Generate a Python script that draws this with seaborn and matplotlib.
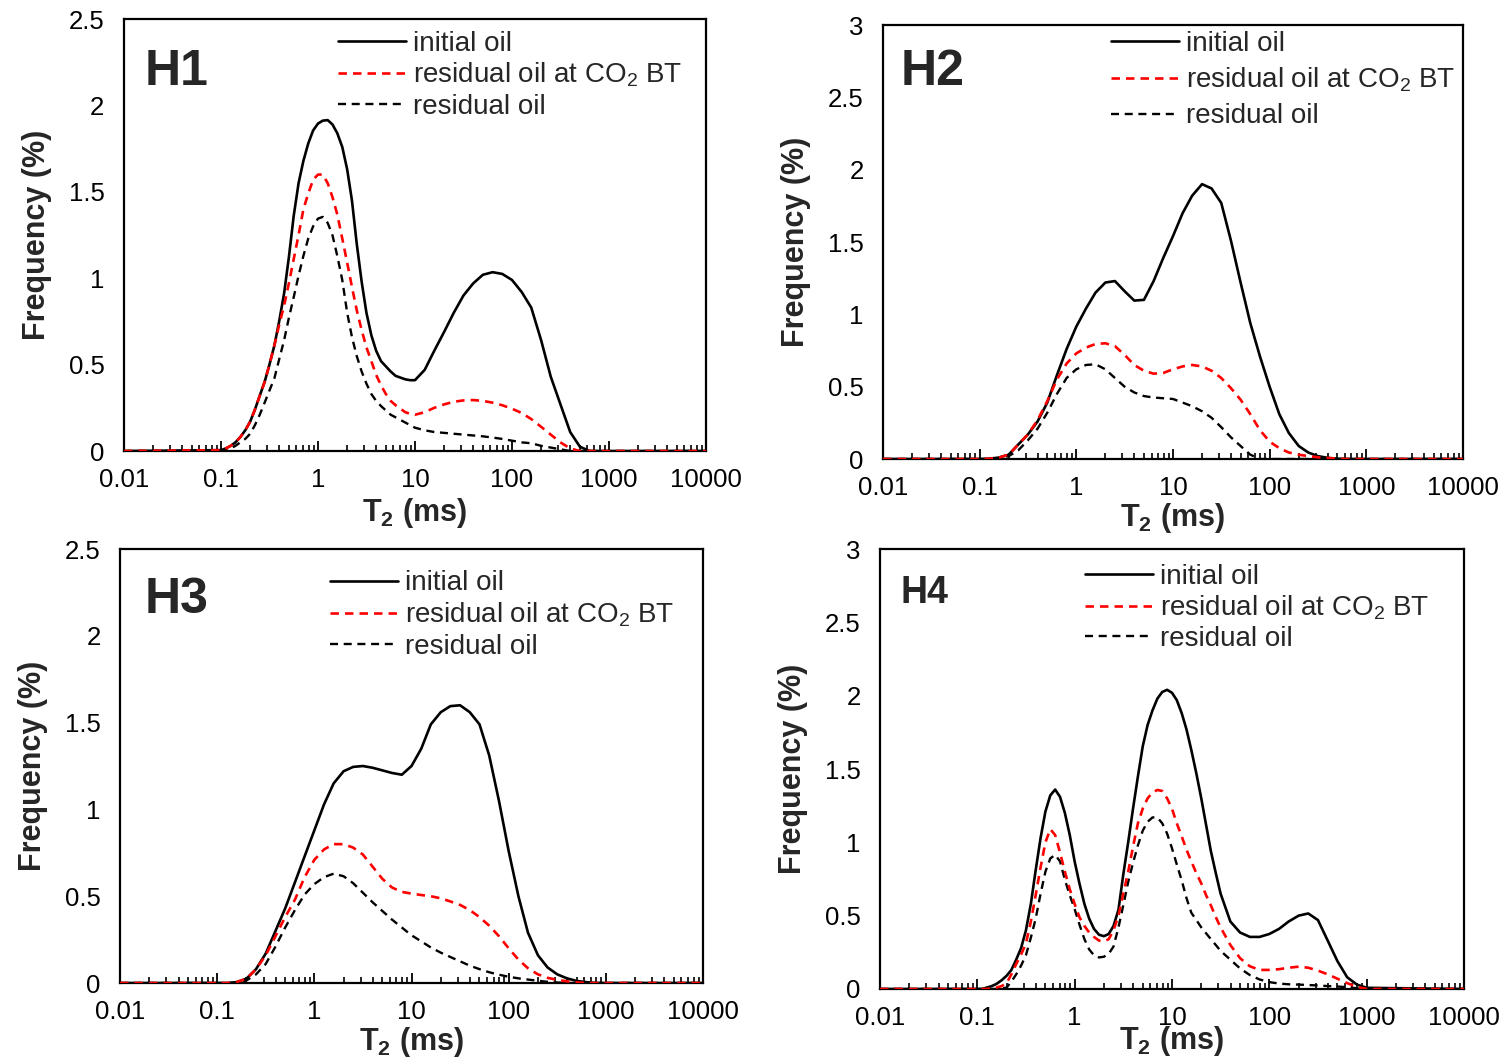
import matplotlib
matplotlib.use("Agg")
import matplotlib.pyplot as plt
import numpy as np
import pandas as pd
import seaborn as sns
from matplotlib.ticker import FixedLocator, LogLocator, NullFormatter

# ---------------- data ----------------
# T2 sample positions (ms)
T2_BASE = [0.01, 0.1, 0.126, 0.158, 0.2, 0.251, 0.316, 0.398, 0.501, 0.631, 0.794,
           1.0, 1.26, 1.58, 2.0, 2.51, 3.16, 3.98, 5.01, 6.31, 7.94,
           10.0, 12.6, 15.8, 20.0, 25.1, 31.6, 39.8, 50.1, 63.1, 79.4,
           100, 126, 158, 200, 251, 316, 398, 501, 631, 794, 1000, 10000]

H1_T2 = [0.01,
         0.1, 0.112, 0.126, 0.141, 0.158, 0.178, 0.2, 0.224, 0.251, 0.282,
         0.316, 0.355, 0.398, 0.447, 0.501, 0.562, 0.631, 0.708, 0.794, 0.891,
         1.0, 1.12, 1.26, 1.41, 1.58, 1.78, 2.0, 2.24, 2.51, 2.82,
         3.16, 3.55, 3.98, 4.47, 5.01, 5.62, 6.31, 7.08, 7.94, 8.91, 10.0,
         12.6, 15.8, 20.0, 25.1, 31.6, 39.8, 50.1, 63.1, 79.4, 100,
         126, 158, 200, 251, 316, 398, 501, 631, 794, 1000,
         10000]
H1_INITIAL = [0,
              0.005, 0.015, 0.03, 0.05, 0.08, 0.12, 0.17, 0.24, 0.32, 0.40,
              0.50, 0.61, 0.75, 0.91, 1.12, 1.36, 1.55, 1.68, 1.78, 1.855,
              1.895, 1.912, 1.915, 1.89, 1.84, 1.76, 1.63, 1.45, 1.20, 0.98,
              0.80, 0.67, 0.58, 0.52, 0.49, 0.46, 0.435, 0.425, 0.415, 0.41, 0.41,
              0.47, 0.58, 0.69, 0.80, 0.90, 0.97, 1.02, 1.035, 1.025, 0.99,
              0.92, 0.83, 0.64, 0.43, 0.27, 0.11, 0.025, 0, 0, 0,
              0]
H1_BT = [0,
         0.005, 0.015, 0.03, 0.05, 0.08, 0.12, 0.17, 0.24, 0.32, 0.40,
         0.50, 0.61, 0.73, 0.84, 0.97, 1.11, 1.25, 1.40, 1.49, 1.57,
         1.60, 1.60, 1.55, 1.47, 1.37, 1.23, 1.09, 0.95, 0.815, 0.70,
         0.60, 0.52, 0.44, 0.38, 0.33, 0.29, 0.265, 0.245, 0.225, 0.215, 0.21,
         0.225, 0.25, 0.27, 0.285, 0.293, 0.295, 0.29, 0.28, 0.265, 0.245,
         0.22, 0.185, 0.14, 0.095, 0.05, 0.015, 0, 0, 0, 0,
         0]
H1_RESIDUAL = [0,
               0, 0.005, 0.015, 0.03, 0.05, 0.07, 0.10, 0.15, 0.21, 0.28,
               0.35, 0.42, 0.53, 0.64, 0.77, 0.89, 1.015, 1.13, 1.23, 1.30,
               1.345, 1.355, 1.32, 1.25, 1.13, 0.99, 0.80, 0.66, 0.55, 0.46,
               0.39, 0.33, 0.29, 0.26, 0.235, 0.21, 0.195, 0.18, 0.165, 0.15, 0.135,
               0.12, 0.11, 0.105, 0.10, 0.095, 0.09, 0.085, 0.078, 0.07, 0.06,
               0.05, 0.045, 0.03, 0.02, 0.01, 0, 0, 0, 0, 0,
               0]

H2_INITIAL = [0, 0, 0.002, 0.01, 0.03, 0.10, 0.17, 0.26, 0.39, 0.58, 0.76,
              0.915, 1.04, 1.15, 1.22, 1.23, 1.16, 1.095, 1.10, 1.23, 1.39,
              1.54, 1.70, 1.82, 1.90, 1.87, 1.77, 1.51, 1.22, 0.94, 0.71,
              0.50, 0.31, 0.18, 0.09, 0.045, 0.02, 0.008, 0.002, 0, 0, 0, 0]
H2_BT = [0, 0, 0.002, 0.01, 0.03, 0.10, 0.17, 0.27, 0.40, 0.55, 0.66,
         0.73, 0.77, 0.795, 0.80, 0.78, 0.72, 0.65, 0.61, 0.59, 0.595,
         0.62, 0.64, 0.65, 0.64, 0.61, 0.56, 0.49, 0.41, 0.31, 0.20,
         0.12, 0.075, 0.045, 0.03, 0.02, 0.012, 0.007, 0.003, 0, 0, 0, 0]
H2_RESIDUAL = [0, 0, 0, 0.005, 0.02, 0.06, 0.13, 0.21, 0.32, 0.45, 0.56,
               0.62, 0.65, 0.655, 0.62, 0.56, 0.50, 0.46, 0.435, 0.425, 0.42,
               0.415, 0.39, 0.365, 0.33, 0.285, 0.22, 0.15, 0.09, 0.03, 0,
               0, 0, 0, 0, 0, 0, 0, 0, 0, 0, 0, 0]

H3_INITIAL = [0, 0, 0, 0.005, 0.025, 0.08, 0.17, 0.30, 0.43, 0.58, 0.73,
              0.88, 1.03, 1.15, 1.22, 1.245, 1.25, 1.24, 1.225, 1.21, 1.20,
              1.25, 1.35, 1.49, 1.56, 1.595, 1.60, 1.56, 1.49, 1.31, 1.05,
              0.76, 0.50, 0.29, 0.16, 0.09, 0.05, 0.027, 0.012, 0.005, 0, 0, 0]
H3_BT = [0, 0, 0, 0.005, 0.025, 0.08, 0.16, 0.27, 0.38, 0.48, 0.61,
         0.71, 0.77, 0.80, 0.80, 0.78, 0.74, 0.67, 0.60, 0.55, 0.525,
         0.515, 0.507, 0.50, 0.488, 0.47, 0.45, 0.42, 0.38, 0.33, 0.27,
         0.20, 0.135, 0.085, 0.05, 0.03, 0.018, 0.01, 0.004, 0, 0, 0, 0]
H3_RESIDUAL = [0, 0, 0, 0, 0.015, 0.05, 0.11, 0.21, 0.32, 0.42, 0.51,
               0.57, 0.61, 0.63, 0.615, 0.575, 0.52, 0.465, 0.415, 0.365, 0.32,
               0.275, 0.24, 0.205, 0.175, 0.15, 0.125, 0.10, 0.08, 0.062, 0.048,
               0.036, 0.027, 0.02, 0.013, 0.007, 0.003, 0, 0, 0, 0, 0, 0]

H4_T2 = [0.01,
         0.1, 0.112, 0.126, 0.141, 0.158, 0.178, 0.2, 0.224, 0.251, 0.282,
         0.316, 0.355, 0.398, 0.447, 0.501, 0.562, 0.631, 0.708, 0.794, 0.891,
         1.0, 1.12, 1.26, 1.41, 1.58, 1.78, 2.0, 2.24, 2.51, 2.82,
         3.16, 3.55, 3.98, 4.47, 5.01, 5.62, 6.31, 7.08, 7.94, 8.91,
         10.0, 11.2, 12.6, 14.1, 15.8, 17.8, 20.0, 22.4, 25.1, 28.2, 31.6,
         39.8, 50.1, 63.1, 79.4, 100, 126, 158, 200, 251, 316, 398, 501, 631, 794, 1000,
         10000]
H4_INITIAL = [0,
              0, 0, 0.01, 0.02, 0.035, 0.06, 0.09, 0.13, 0.20, 0.28,
              0.40, 0.58, 0.81, 1.03, 1.21, 1.32, 1.36, 1.31, 1.20, 1.05,
              0.87, 0.72, 0.58, 0.48, 0.41, 0.37, 0.36, 0.375, 0.43, 0.54,
              0.78, 1.00, 1.23, 1.45, 1.655, 1.80, 1.90, 1.98, 2.025, 2.04,
              2.02, 1.97, 1.88, 1.77, 1.63, 1.47, 1.30, 1.12, 0.94, 0.79, 0.65,
              0.46, 0.385, 0.355, 0.355, 0.375, 0.41, 0.46, 0.50, 0.515, 0.47, 0.33, 0.19, 0.08, 0.03, 0.008,
              0]
H4_BT = [0,
         0, 0, 0, 0.005, 0.01, 0.02, 0.04, 0.10, 0.17, 0.235,
         0.31, 0.46, 0.64, 0.83, 1.00, 1.09, 1.05, 0.93, 0.80, 0.68,
         0.58, 0.49, 0.43, 0.385, 0.355, 0.33, 0.325, 0.34, 0.40, 0.50,
         0.65, 0.80, 0.97, 1.13, 1.23, 1.30, 1.34, 1.357, 1.35, 1.30,
         1.23, 1.13, 1.04, 0.95, 0.87, 0.79, 0.72, 0.64, 0.57, 0.49, 0.42,
         0.30, 0.21, 0.155, 0.13, 0.13, 0.135, 0.145, 0.152, 0.145, 0.125, 0.10, 0.07, 0.04, 0.015, 0,
         0]
H4_RESIDUAL = [0,
               0, 0, 0, 0, 0, 0.003, 0.01, 0.05, 0.10, 0.16,
               0.23, 0.35, 0.48, 0.65, 0.80, 0.89, 0.915, 0.87, 0.745, 0.64,
               0.545, 0.44, 0.34, 0.27, 0.23, 0.215, 0.22, 0.24, 0.29, 0.42,
               0.57, 0.73, 0.86, 0.98, 1.08, 1.14, 1.17, 1.17, 1.13, 1.06,
               0.96, 0.85, 0.74, 0.62, 0.52, 0.47, 0.42, 0.38, 0.34, 0.30, 0.26,
               0.20, 0.14, 0.095, 0.065, 0.047, 0.037, 0.032, 0.03, 0.027, 0.024, 0.02, 0.017, 0.012, 0.005, 0,
               0]

SERIES_LABELS = ["initial oil", r"residual oil at CO$_2$ BT", "residual oil"]
X_TICKS = [0.01, 0.1, 1, 10, 100, 1000, 10000]
X_TICK_LABELS = ["0.01", "0.1", "1", "10", "100", "1000", "10000"]
Y_TICKS_25 = [0, 0.5, 1, 1.5, 2, 2.5]
Y_TICK_LABELS_25 = ["0", "0.5", "1", "1.5", "2", "2.5"]
Y_TICKS_3 = [0, 0.5, 1, 1.5, 2, 2.5, 3]
Y_TICK_LABELS_3 = ["0", "0.5", "1", "1.5", "2", "2.5", "3"]

# ---------------- style ----------------
sns.set_style("white")
plt.rcParams["font.family"] = ["Liberation Sans", "DejaVu Sans"]
plt.rcParams["mathtext.fontset"] = "custom"
plt.rcParams["mathtext.rm"] = "Liberation Sans"
plt.rcParams["mathtext.it"] = "Liberation Sans:italic"
plt.rcParams["mathtext.bf"] = "Liberation Sans:bold"

fig = plt.figure(figsize=(15.06, 10.64), dpi=100)

panels = [
    dict(name="H1", rect=[0.0823, 0.5761, 0.3865, 0.4060], x=H1_T2,
         data=(H1_INITIAL, H1_BT, H1_RESIDUAL),
         yt=(Y_TICKS_25, Y_TICK_LABELS_25), ymax=2.5, leg=(0.368, 0.870), lsp=0.16,
         tag=(0.036, 0.847), tagsize=36, xlp=3),
    dict(name="H2", rect=[0.5863, 0.5686, 0.3851, 0.4079], x=T2_BASE,
         data=(H2_INITIAL, H2_BT, H2_RESIDUAL),
         yt=(Y_TICKS_3, Y_TICK_LABELS_3), ymax=3.0, leg=(0.393, 0.873), lsp=0.32,
         tag=(0.031, 0.862), tagsize=36, xlp=1),
    dict(name="H3", rect=[0.0797, 0.0761, 0.3871, 0.4079], x=T2_BASE,
         data=(H3_INITIAL, H3_BT, H3_RESIDUAL),
         yt=(Y_TICKS_25, Y_TICK_LABELS_25), ymax=2.5, leg=(0.360, 0.848), lsp=0.16,
         tag=(0.043, 0.853), tagsize=36, xlp=1),
    dict(name="H4", rect=[0.5843, 0.0705, 0.3878, 0.4135], x=H4_T2,
         data=(H4_INITIAL, H4_BT, H4_RESIDUAL),
         yt=(Y_TICKS_3, Y_TICK_LABELS_3), ymax=3.0, leg=(0.351, 0.866), lsp=0.14,
         tag=(0.036, 0.877), tagsize=27, xlp=-4),
]

for p in panels:
    ax = fig.add_axes(p["rect"])
    init, bt, resid = p["data"]
    df = pd.DataFrame({"T2": p["x"], "initial": init, "bt": bt, "resid": resid})

    sns.lineplot(data=df, x="T2", y="initial", ax=ax, color="black", linewidth=1.9,
                 label=SERIES_LABELS[0], zorder=3)
    sns.lineplot(data=df, x="T2", y="resid", ax=ax, color="black", linewidth=1.7,
                 label=SERIES_LABELS[2], zorder=3)
    ax.lines[-1].set_dashes([3.4, 2.4])
    sns.lineplot(data=df, x="T2", y="bt", ax=ax, color="#ff0000", linewidth=1.9,
                 label=SERIES_LABELS[1], zorder=3)
    ax.lines[-1].set_dashes([3.2, 2.3])

    ax.set_xscale("log")
    ax.set_xlim(0.01, 10000)
    ax.set_ylim(0, p["ymax"])
    ax.xaxis.set_major_locator(FixedLocator(X_TICKS))
    ax.set_xticklabels(X_TICK_LABELS)
    ax.xaxis.set_minor_locator(LogLocator(base=10, subs=range(2, 10), numticks=30))
    ax.xaxis.set_minor_formatter(NullFormatter())
    ax.set_yticks(p["yt"][0])
    ax.set_yticklabels(p["yt"][1])

    ax.tick_params(axis="x", which="major", direction="in", length=7, width=1.3,
                   pad=12, labelsize=18.5, bottom=True, top=False, colors="black")
    ax.tick_params(axis="x", which="minor", direction="in", length=4, width=1.2,
                   bottom=True, top=False, colors="black")
    ax.tick_params(axis="y", which="both", length=0, pad=14, labelsize=18.5,
                   left=True, colors="black")

    for s in ax.spines.values():
        s.set_visible(True)
        s.set_color("black")
        s.set_linewidth(1.6)

    ax.set_xlabel(r"$\mathbf{T_2}$ (ms)", fontsize=22, fontweight="bold", labelpad=p["xlp"])
    ax.set_ylabel("Frequency (%)", fontsize=22, fontweight="bold", labelpad=12)

    handles, labels = ax.get_legend_handles_labels()
    order = [labels.index(l) for l in SERIES_LABELS]
    ax.legend([handles[i] for i in order], [labels[i] for i in order],
              loc="center left", bbox_to_anchor=p["leg"], frameon=False,
              fontsize=20, handlelength=2.45, handletextpad=0.25,
              labelspacing=p["lsp"], borderpad=0, borderaxespad=0)

    ax.text(p["tag"][0], p["tag"][1], p["name"], transform=ax.transAxes,
            fontsize=p["tagsize"], fontweight="bold", ha="left", va="baseline")

fig.savefig("out.png", dpi=100)
